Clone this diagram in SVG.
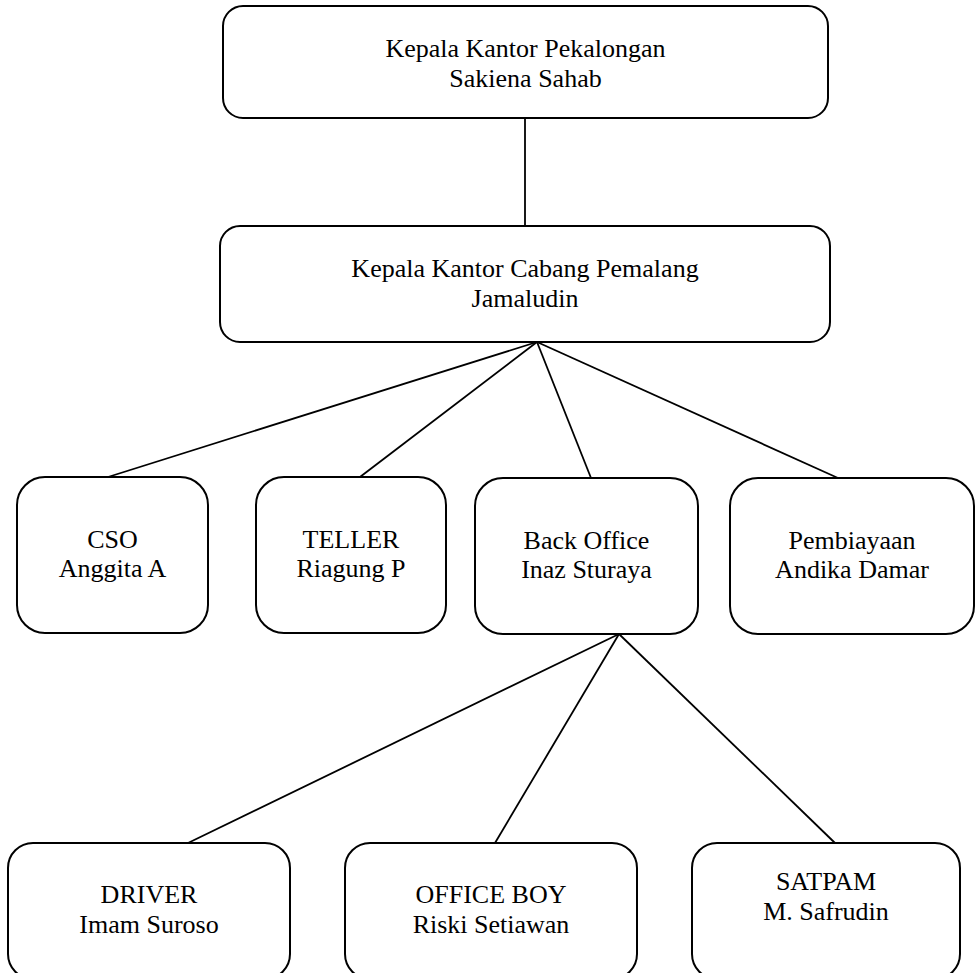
<svg xmlns="http://www.w3.org/2000/svg" width="976" height="973" viewBox="0 0 976 973">
<style>
.box{fill:#fff;stroke:#000;stroke-width:2}
.t{font-family:"Liberation Serif","Times New Roman",serif;font-size:26px;fill:#000;text-anchor:middle}
.c{stroke:#000;stroke-width:1.8;fill:none}
</style>
<rect width="976" height="973" fill="#fff"/>
<g id="connectors">
<line class="c" x1="525" y1="118" x2="525" y2="226"/>
<line class="c" x1="537" y1="342" x2="108" y2="477"/>
<line class="c" x1="537" y1="342" x2="360" y2="477"/>
<line class="c" x1="537" y1="342" x2="591" y2="478"/>
<line class="c" x1="537" y1="342" x2="838" y2="478"/>
<line class="c" x1="619" y1="634" x2="188" y2="843"/>
<line class="c" x1="619" y1="634" x2="495" y2="843"/>
<line class="c" x1="619" y1="634" x2="835" y2="843"/>
</g>
<g id="kepala-pekalongan">
<rect class="box" x="223" y="6" width="605" height="112" rx="20"/>
<text class="t" x="525.5" y="57">Kepala Kantor Pekalongan</text>
<text class="t" x="525.5" y="87">Sakiena Sahab</text>
</g>
<g id="kepala-pemalang">
<rect class="box" x="220" y="226" width="610" height="116" rx="20"/>
<text class="t" x="525" y="277">Kepala Kantor Cabang Pemalang</text>
<text class="t" x="525" y="307">Jamaludin</text>
</g>
<g id="cso">
<rect class="box" x="17" y="477" width="191" height="156" rx="28"/>
<text class="t" x="112.5" y="548">CSO</text>
<text class="t" x="112.5" y="577">Anggita A</text>
</g>
<g id="teller">
<rect class="box" x="256" y="477" width="190" height="156" rx="28"/>
<text class="t" x="351" y="548">TELLER</text>
<text class="t" x="351" y="577">Riagung P</text>
</g>
<g id="back-office">
<rect class="box" x="475" y="478" width="223" height="156" rx="28"/>
<text class="t" x="586.5" y="549">Back Office</text>
<text class="t" x="586.5" y="578">Inaz Sturaya</text>
</g>
<g id="pembiayaan">
<rect class="box" x="730" y="478" width="244" height="156" rx="28"/>
<text class="t" x="852" y="549">Pembiayaan</text>
<text class="t" x="852" y="578">Andika Damar</text>
</g>
<g id="driver">
<rect class="box" x="8" y="843" width="282" height="136" rx="25"/>
<text class="t" x="149" y="903">DRIVER</text>
<text class="t" x="149" y="933">Imam Suroso</text>
</g>
<g id="office-boy">
<rect class="box" x="345" y="843" width="292" height="136" rx="25"/>
<text class="t" x="491" y="903">OFFICE BOY</text>
<text class="t" x="491" y="933">Riski Setiawan</text>
</g>
<g id="satpam">
<rect class="box" x="692" y="843" width="268" height="136" rx="25"/>
<text class="t" x="826" y="890">SATPAM</text>
<text class="t" x="826" y="920">M. Safrudin</text>
</g>
</svg>
